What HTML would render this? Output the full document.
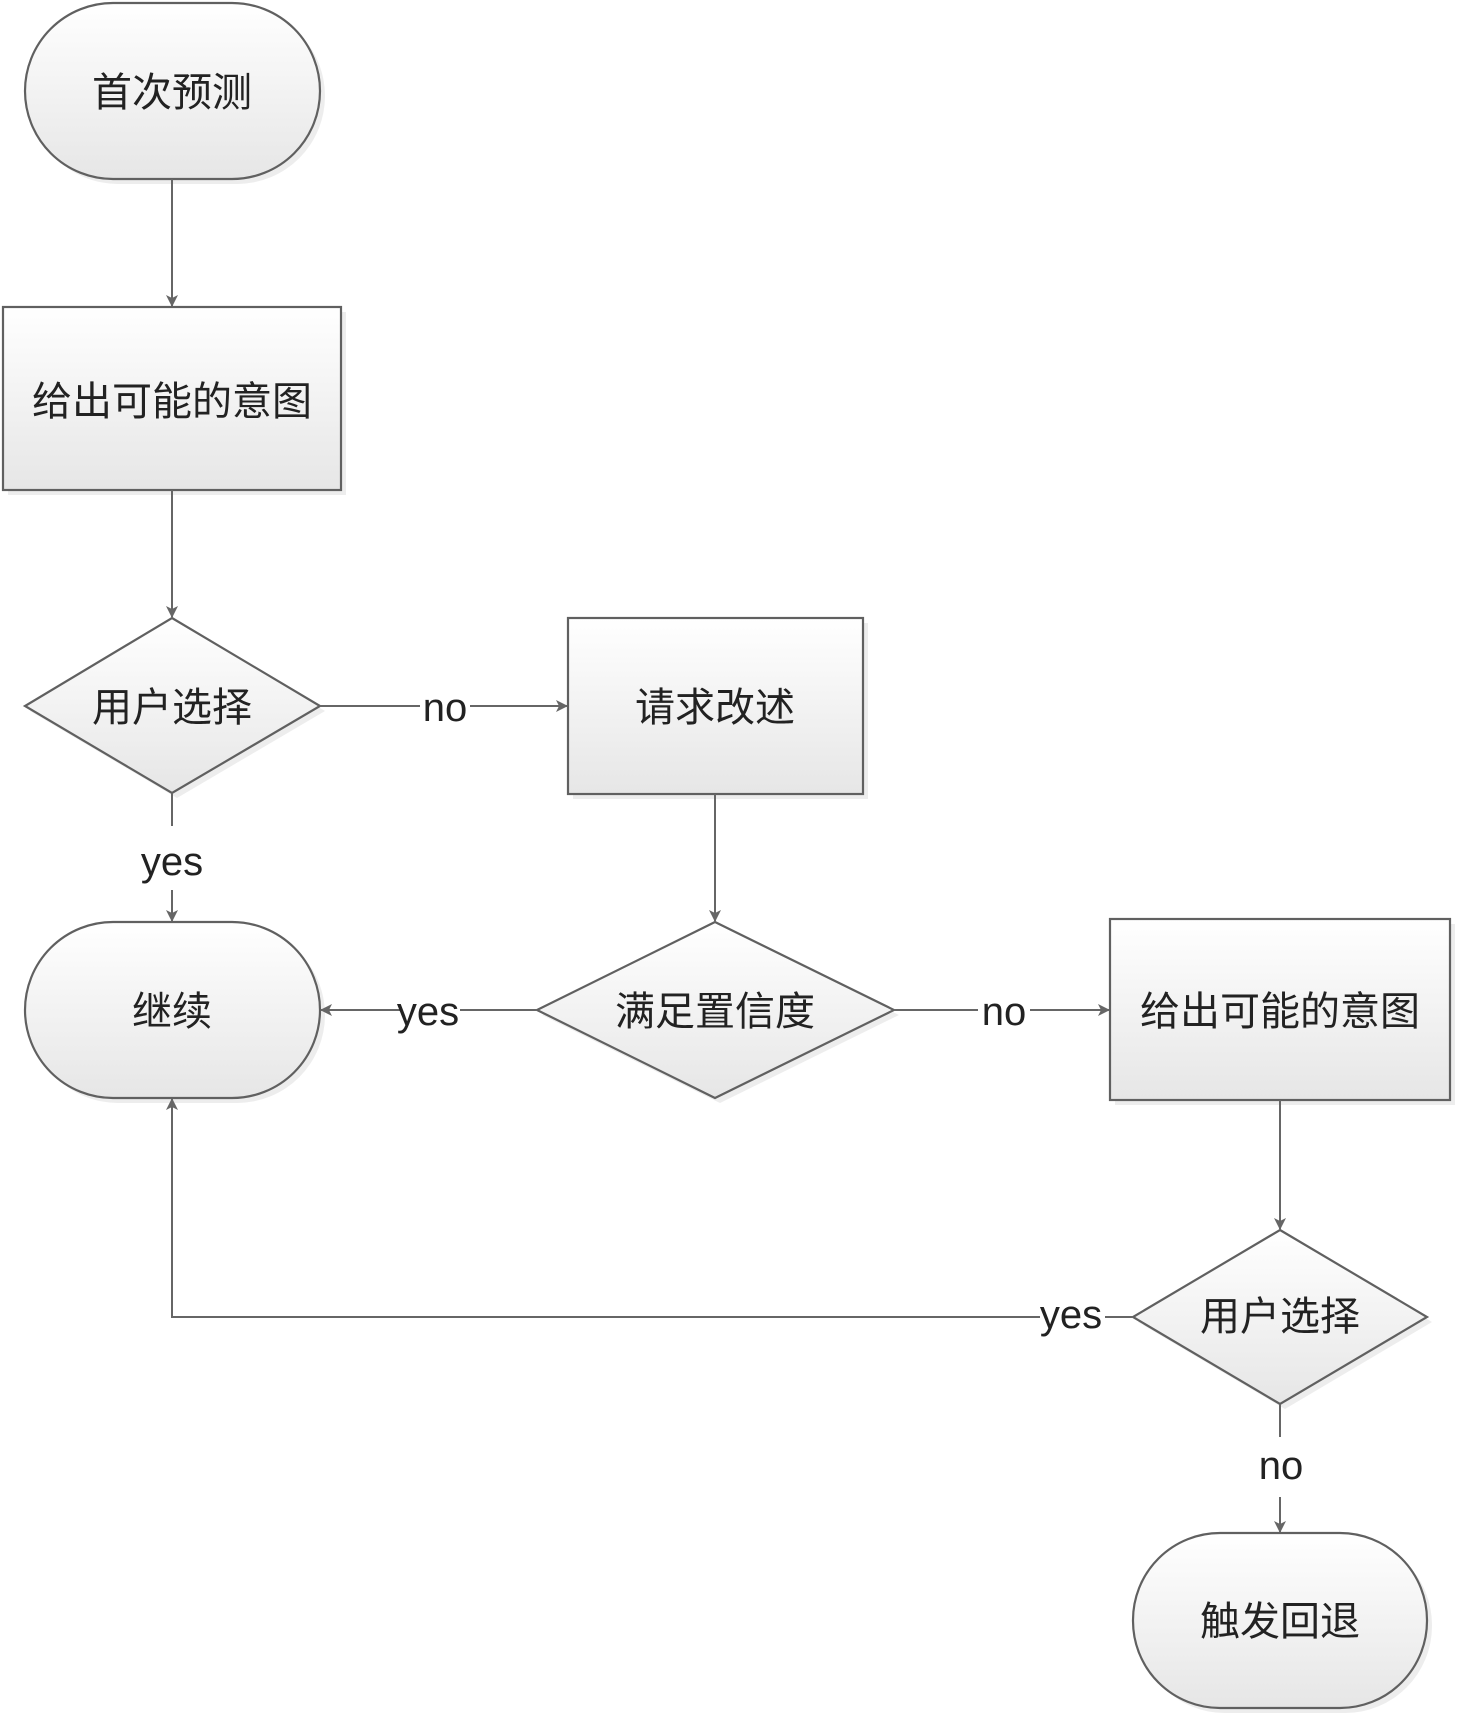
<!DOCTYPE html>
<html><head><meta charset="utf-8"><style>
html,body{margin:0;padding:0;background:#fff}
svg text{font-family:"Liberation Sans","Noto Sans CJK SC",sans-serif;fill:#222}
</style></head><body>
<svg width="1458" height="1716" viewBox="0 0 1458 1716" xmlns="http://www.w3.org/2000/svg">
<defs>
<linearGradient id="g" x1="0" y1="0" x2="0" y2="1"><stop offset="0" stop-color="#ffffff"/><stop offset="1" stop-color="#e6e6e6"/></linearGradient>
<marker id="a" markerWidth="12" markerHeight="12" refX="11" refY="6" orient="auto" markerUnits="userSpaceOnUse"><path d="M0,0 L12,6 L0,12 L3,6 z" fill="#666"/></marker>
</defs>
<g fill="#e8e8e8" stroke="none" opacity="0.8">
<rect x="30" y="8" width="295" height="176" rx="88"/>
<rect x="8" y="312" width="338" height="183"/>
<polygon points="177,623 325,711 177,798 30,711"/>
<rect x="573" y="623" width="295" height="176"/>
<rect x="30" y="927" width="295" height="176" rx="88"/>
<polygon points="720,927 899,1015 720,1103 542,1015"/>
<rect x="1115" y="924" width="340" height="181"/>
<polygon points="1285,1235 1432,1322 1285,1409 1138,1322"/>
<rect x="1138" y="1538" width="294" height="175" rx="87"/>
</g>
<g fill="url(#g)" stroke="#606060" stroke-width="2.2">
<rect x="25" y="3" width="295" height="176" rx="88"/>
<rect x="3" y="307" width="338" height="183"/>
<polygon points="172,618 320,706 172,793 25,706"/>
<rect x="568" y="618" width="295" height="176"/>
<rect x="25" y="922" width="295" height="176" rx="88"/>
<polygon points="715,922 894,1010 715,1098 537,1010"/>
<rect x="1110" y="919" width="340" height="181"/>
<polygon points="1280,1230 1427,1317 1280,1404 1133,1317"/>
<rect x="1133" y="1533" width="294" height="175" rx="87"/>
</g>
<g stroke="#666" stroke-width="2" fill="none">
<line x1="172" y1="179" x2="172" y2="306" marker-end="url(#a)"/>
<line x1="172" y1="490" x2="172" y2="617" marker-end="url(#a)"/>
<line x1="320" y1="706" x2="420" y2="706"/><line x1="470" y1="706" x2="567" y2="706" marker-end="url(#a)"/>
<line x1="172" y1="793" x2="172" y2="826"/><line x1="172" y1="890" x2="172" y2="921" marker-end="url(#a)"/>
<line x1="715" y1="794" x2="715" y2="921" marker-end="url(#a)"/>
<line x1="537" y1="1010" x2="460" y2="1010"/><line x1="400" y1="1010" x2="321" y2="1010" marker-end="url(#a)"/>
<line x1="894" y1="1010" x2="978" y2="1010"/><line x1="1030" y1="1010" x2="1109" y2="1010" marker-end="url(#a)"/>
<line x1="1280" y1="1100" x2="1280" y2="1229" marker-end="url(#a)"/>
<line x1="1133" y1="1317" x2="1105" y2="1317"/><polyline points="1040,1317 172,1317 172,1099" marker-end="url(#a)"/>
<line x1="1280" y1="1404" x2="1280" y2="1437"/><line x1="1280" y1="1497" x2="1280" y2="1532" marker-end="url(#a)"/>
</g>
<g font-size="40" text-anchor="middle" dominant-baseline="central">
<text x="172" y="93">首次预测</text>
<text x="172" y="402">给出可能的意图</text>
<text x="172" y="708">用户选择</text>
<text x="715" y="708">请求改述</text>
<text x="172" y="1012">继续</text>
<text x="715" y="1012">满足置信度</text>
<text x="1280" y="1012">给出可能的意图</text>
<text x="1280" y="1317">用户选择</text>
<text x="1280" y="1622">触发回退</text>
</g>
<g font-size="40" text-anchor="middle" dominant-baseline="central">
<text x="445" y="708">no</text>
<text x="172" y="862">yes</text>
<text x="428" y="1012">yes</text>
<text x="1004" y="1012">no</text>
<text x="1071" y="1315">yes</text>
<text x="1281" y="1466">no</text>
</g>
</svg>
</body></html>
